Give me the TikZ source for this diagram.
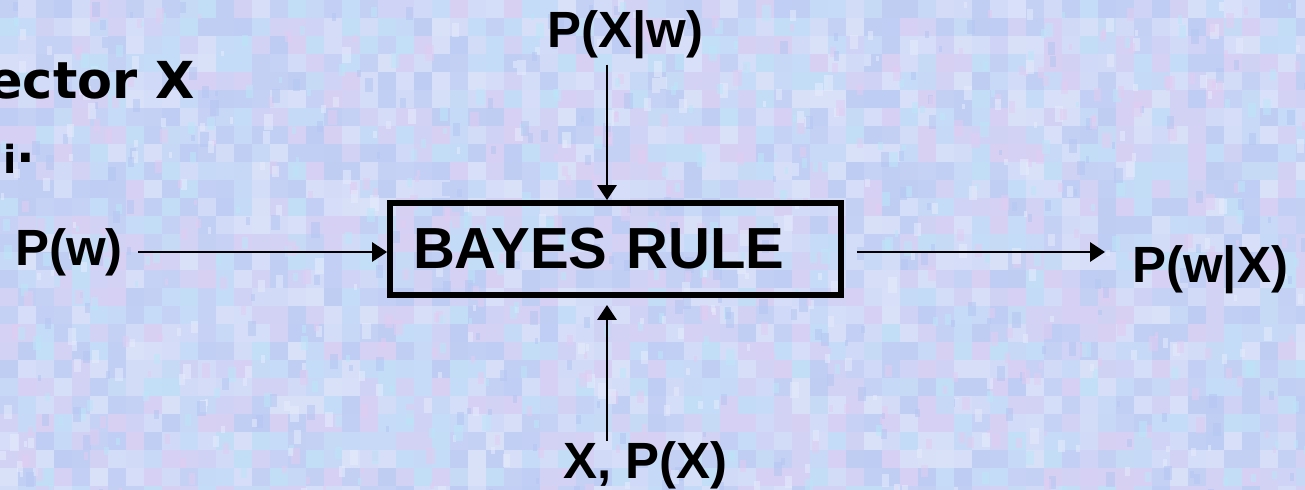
\documentclass[tikz,border=0pt]{standalone}
\usepackage{fontspec}
\setmainfont{Liberation Sans}
\newfontfamily\slidefont{DejaVu Sans}
\usetikzlibrary{arrows.meta,positioning,calc}

\definecolor{bgbase}{RGB}{203,213,246}
\definecolor{tex0}{RGB}{226,204,242}
\definecolor{tex1}{RGB}{188,230,249}
\definecolor{tex2}{RGB}{180,198,242}
\definecolor{tex3}{RGB}{230,236,252}

\begin{document}
\begin{tikzpicture}[
  x=0.02cm, y=-0.02cm,
  lbl/.style={font=\fontsize{29}{31}\selectfont\bfseries, inner sep=0pt, anchor=base west},
  rulebox/.style={draw=black, line width=3.4pt, minimum width=9.02cm, minimum height=1.84cm,
                  text width=8.1cm, align=left, inner xsep=0.46cm, inner ysep=0pt,
                  font=\fontsize{33}{35}\selectfont\bfseries},
  arr/.style={draw=black, line width=1.1pt, -{Triangle[length=8.5pt, width=11pt]}},
]

% --- textured slide background ---
\fill[bgbase] (0,0) rectangle (1305,490);
\useasboundingbox (0,0) rectangle (1305,490);
\pgfmathsetseed{42}
\foreach \i in {0,...,72} {
  \foreach \j in {0,...,27} {
    \pgfmathsetmacro\c{int(random(0,3))}
    \pgfmathsetmacro\o{0.2+0.35*rnd}
    \fill[tex\c, opacity=\o] (\i*18,\j*18) rectangle ++(18,18);
  }
}
\foreach \k in {1,...,900} {
  \pgfmathsetmacro\c{int(random(0,3))}
  \pgfmathsetmacro\px{1305*rnd}
  \pgfmathsetmacro\py{490*rnd}
  \pgfmathsetmacro\s{3+6*rnd}
  \fill[tex\c, opacity=0.55] (\px,\py) rectangle ++(\s,\s*1.8);
}

% --- cut-off slide text ---
\node[font=\slidefont\fontsize{29}{31}\selectfont\bfseries, inner sep=0pt, anchor=base west]
  (vec) at (-12,98) {ector X};
\node[font=\slidefont\fontsize{28}{30}\selectfont\bfseries, inner sep=0pt, anchor=base west]
  (subi) at (3,162) {\raisebox{-0.24cm}{\fontsize{22}{24}\selectfont i}.};

% --- rule box and labels ---
\node[rulebox] (rule) at (615.5,249) {BAYES RULE};
\node[lbl] (pxw) at (547,48)   {P(X|w)};
\node[lbl] (pw)  at (15,265)   {P(w)};
\node[lbl] (pwx) at (1132,282) {P(w|X)};
\node[lbl] (xpx) at (563,478)  {X, P(X)};

\coordinate (colx) at (607,0);
\coordinate (rowy) at (0,252);

% --- arrows ---
\draw[arr, shorten <=0.1cm] (pxw.south -| colx) -- (rule.north -| colx);
\draw[arr, shorten >=0.14cm] (xpx.north -| colx) -- (rule.south -| colx);
\draw[arr, shorten <=0.3cm] (pw.east |- rowy) -- (rule.west |- rowy);
\draw[arr, shorten <=0.26cm, shorten >=0.54cm] (rule.east |- rowy) -- (pwx.west |- rowy);

\end{tikzpicture}
\end{document}
